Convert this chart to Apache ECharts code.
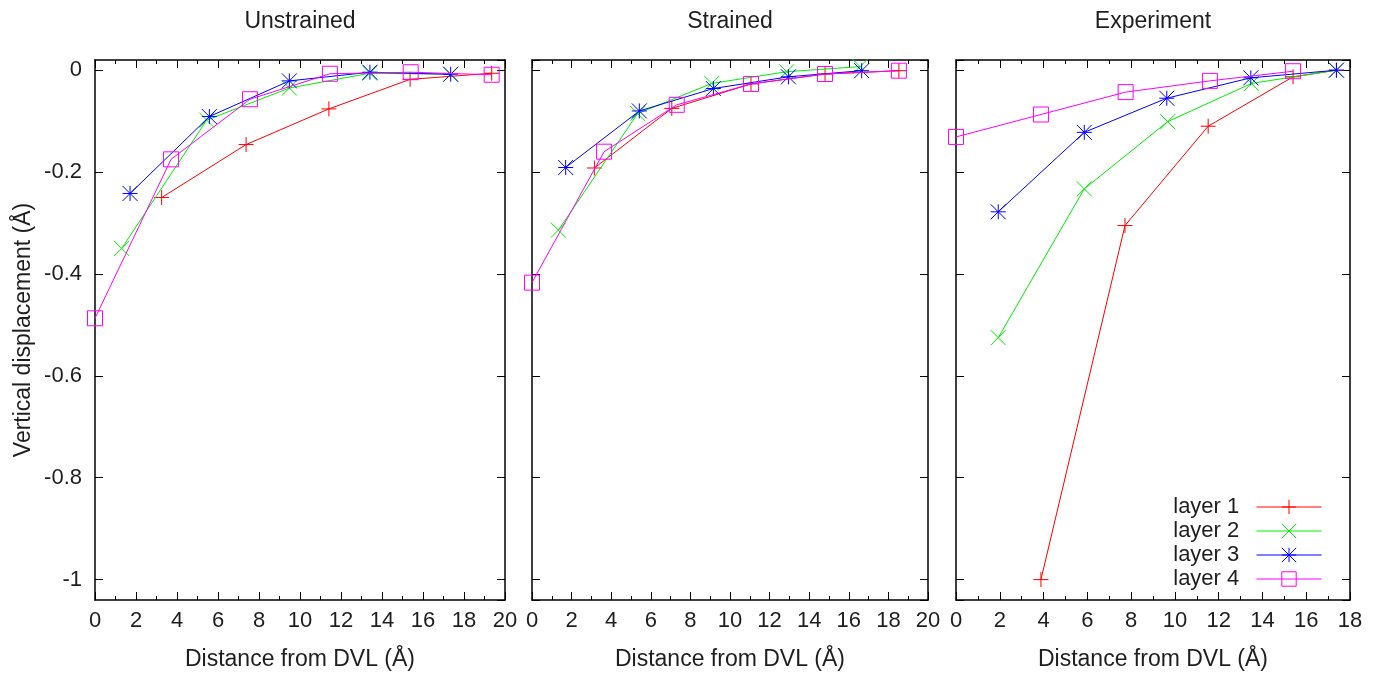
<!DOCTYPE html>
<html>
<head>
<meta charset="utf-8">
<script src="https://cdn.jsdelivr.net/npm/echarts@6/dist/echarts.min.js"></script>
<style>
html,body{margin:0;padding:0;background:#ffffff;}
#chart{width:1383px;height:673px;}
</style>
</head>
<body>
<div id="chart"></div>
<script>
// ---------------- data ----------------
const panelTitles = ['Unstrained', 'Strained', 'Experiment'];
const layerNames = ['layer 1', 'layer 2', 'layer 3', 'layer 4'];
const xAxisName = 'Distance from DVL (Å)';
const yAxisName = 'Vertical displacement (Å)';
const xMaxima = [20, 20, 18];

// Unstrained
const unstrainedL1X = [3.25, 7.37, 11.41, 15.37, 19.35];
const unstrainedL1Y = [-0.250, -0.146, -0.076, -0.018, -0.006];
const unstrainedL2X = [1.30, 5.45, 9.48, 13.41, 17.35];
const unstrainedL2Y = [-0.350, -0.098, -0.035, -0.006, -0.008];
const unstrainedL3X = [1.71, 5.58, 9.48, 13.41, 17.35];
const unstrainedL3Y = [-0.242, -0.091, -0.021, -0.004, -0.008];
const unstrainedL4X = [0, 3.71, 7.56, 11.46, 15.40, 19.35];
const unstrainedL4Y = [-0.487, -0.175, -0.057, -0.007, -0.004, -0.009];

// Strained
const strainedL1X = [3.15, 7.06, 11.06, 14.80, 18.53];
const strainedL1Y = [-0.192, -0.075, -0.027, -0.0075, -0.001];
const strainedL2X = [1.33, 5.34, 9.08, 12.86, 16.57];
const strainedL2Y = [-0.314, -0.085, -0.026, -0.003, 0.007];
const strainedL3X = [1.70, 5.42, 9.16, 12.95, 16.65];
const strainedL3Y = [-0.191, -0.080, -0.036, -0.013, -0.001];
const strainedL4X = [0, 3.64, 7.31, 11.06, 14.80, 18.53];
const strainedL4Y = [-0.417, -0.160, -0.068, -0.027, -0.0075, -0.001];

// Experiment
const experimentL1X = [3.88, 7.72, 11.52, 15.40, 17.38];
const experimentL1Y = [-1.000, -0.305, -0.110, -0.013, 0];
const experimentL2X = [1.93, 5.86, 9.67, 13.50, 17.38];
const experimentL2Y = [-0.525, -0.233, -0.101, -0.026, 0];
const experimentL3X = [1.93, 5.86, 9.63, 13.47, 17.38];
const experimentL3Y = [-0.278, -0.122, -0.055, -0.015, 0];
const experimentL4X = [0, 3.88, 7.75, 11.60, 15.40];
const experimentL4Y = [-0.131, -0.087, -0.043, -0.021, -0.002];

const panelData = [
  [[unstrainedL1X, unstrainedL1Y], [unstrainedL2X, unstrainedL2Y], [unstrainedL3X, unstrainedL3Y], [unstrainedL4X, unstrainedL4Y]],
  [[strainedL1X, strainedL1Y], [strainedL2X, strainedL2Y], [strainedL3X, strainedL3Y], [strainedL4X, strainedL4Y]],
  [[experimentL1X, experimentL1Y], [experimentL2X, experimentL2Y], [experimentL3X, experimentL3Y], [experimentL4X, experimentL4Y]]
];

// ---------------- styles / layout ----------------
const FONT = '"Liberation Sans", Arial, Helvetica, sans-serif';
const TEXT = '#1e1e1e';
const layerColors = ['#ff0000', '#00ee00', '#0000ff', '#ff00ff'];
const layerSymbols = [
  'path://M0,5L10,5M5,0L5,10',
  'path://M0,0L10,10M0,10L10,0',
  'path://M0,5L10,5M5,0L5,10M0,0L10,10M0,10L10,0',
  'path://M0,0L10,0L10,10L0,10Z'
];
const gridBoxes = [
  {left: 95, width: 410},
  {left: 532, width: 396},
  {left: 956, width: 394}
];
const gridTop = 60, gridHeight = 540;

const grid = gridBoxes.map(g => ({
  left: g.left, width: g.width, top: gridTop, height: gridHeight,
  containLabel: false, outerBoundsMode: 'none'
}));

const axisLine = {show: true, onZero: false, lineStyle: {color: '#000', width: 1.5}};
const xAxis = [];
const yAxis = [];
gridBoxes.forEach((g, i) => {
  ['bottom', 'top'].forEach(pos => {
    xAxis.push({
      type: 'value', gridIndex: i, position: pos, min: 0, max: xMaxima[i], interval: 2,
      axisLine: axisLine,
      axisTick: {show: true, inside: true, length: 8, lineStyle: {color: '#000', width: 1}},
      minorTick: {show: true, splitNumber: 2, length: 4, lineStyle: {color: '#000', width: 1}},
      splitLine: {show: false}, minorSplitLine: {show: false},
      axisLabel: {show: pos === 'bottom', fontSize: 22, color: TEXT, fontFamily: FONT, margin: 10},
      name: pos === 'bottom' ? xAxisName : '',
      nameLocation: 'middle', nameGap: 48,
      nameTextStyle: {fontSize: 23, color: TEXT, fontFamily: FONT}
    });
  });
  ['left', 'right'].forEach(pos => {
    yAxis.push({
      type: 'value', gridIndex: i, position: pos, min: -1.04, max: 0.02, splitNumber: 5,
      axisLine: axisLine,
      axisTick: {show: true, inside: true, length: 8, lineStyle: {color: '#000', width: 1}},
      splitLine: {show: false},
      axisLabel: {show: pos === 'left' && i === 0, showMinLabel: false, showMaxLabel: false,
                  fontSize: 22, color: TEXT, fontFamily: FONT, margin: 13},
      name: (pos === 'left' && i === 0) ? yAxisName : '',
      nameLocation: 'middle', nameGap: 60,
      nameTextStyle: {fontSize: 23, color: TEXT, fontFamily: FONT}
    });
  });
});

const series = [];
panelData.forEach((layers, p) => {
  layers.forEach((xy, l) => {
    const xs = xy[0], ys = xy[1];
    series.push({
      type: 'line', name: layerNames[l],
      xAxisIndex: 2 * p, yAxisIndex: 2 * p,
      data: xs.map((x, k) => [x, ys[k]]),
      symbol: layerSymbols[l], symbolSize: 15, symbolKeepAspect: true,
      showAllSymbol: true, clip: false,
      lineStyle: {color: layerColors[l], width: 1},
      itemStyle: {color: l === 3 ? 'rgba(0,0,0,0)' : layerColors[l], borderColor: layerColors[l], borderWidth: 1},
      emphasis: {disabled: true},
      z: 2 + l
    });
  });
});

const title = panelTitles.map((t, i) => ({
  text: t, left: gridBoxes[i].left + gridBoxes[i].width / 2, top: 10, textAlign: 'center', padding: 0,
  textStyle: {fontSize: 23, fontWeight: 'normal', color: TEXT, fontFamily: FONT}
}));

const option = {
  animation: false,
  backgroundColor: '#ffffff',
  title: title,
  grid: grid,
  xAxis: xAxis,
  yAxis: yAxis,
  legend: {
    data: layerNames, orient: 'vertical', align: 'right',
    right: 61, top: 496, padding: 0,
    itemWidth: 65, itemHeight: 18, itemGap: 2,
    formatter: n => n + '  ',
    textStyle: {fontSize: 22, color: TEXT, fontFamily: FONT},
    itemStyle: {borderWidth: 1},
    lineStyle: {width: 1},
    selectedMode: false
  },
  series: series
};

const chart = echarts.init(document.getElementById('chart'), null, {renderer: 'canvas'});
chart.setOption(option);
</script>
</body>
</html>
